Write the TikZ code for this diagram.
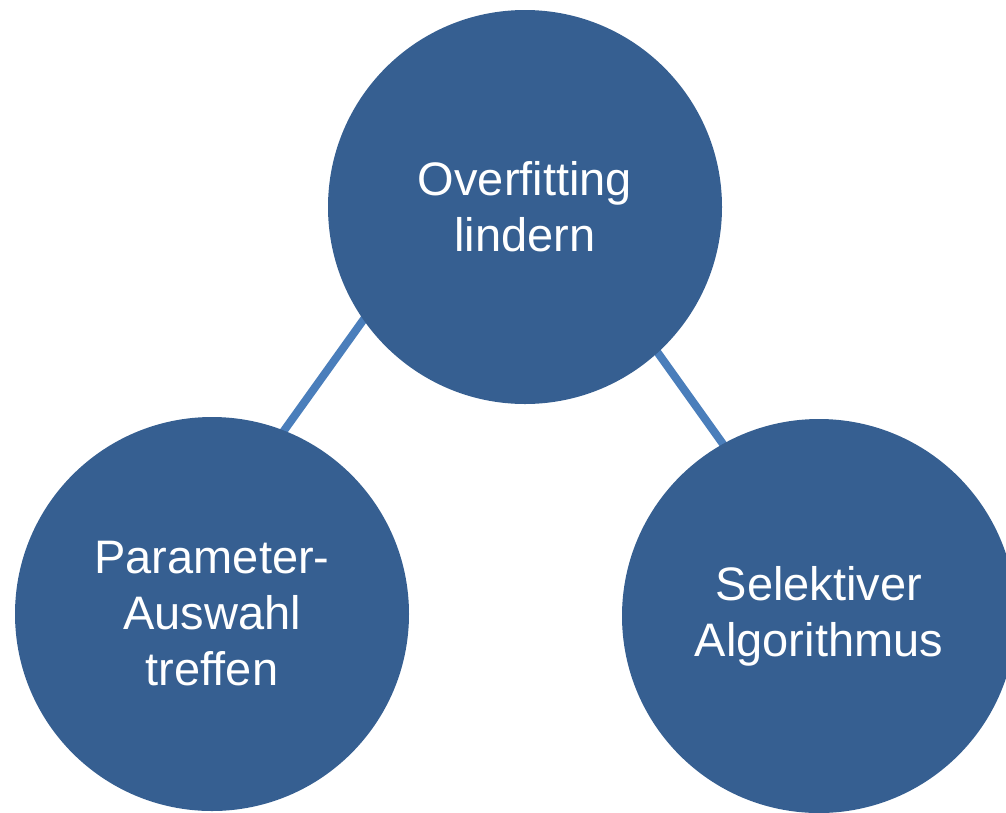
\documentclass[tikz,border=0pt]{standalone}
\usepackage{fontspec}
\setmainfont{Liberation Sans}
\usetikzlibrary{calc,backgrounds}
\definecolor{circfill}{RGB}{54,95,145}
\definecolor{linkcol}{RGB}{74,126,187}
\tikzset{
  bubble/.style={circle, fill=circfill, minimum size=394pt, inner sep=0pt},
  label/.style={text=white, align=center, font=\fontsize{47}{56}\selectfont},
  link/.style={draw=linkcol, line width=8pt}
}
\begin{document}
\begin{tikzpicture}[x=1pt,y=-1pt]
\useasboundingbox (0,0) rectangle (1006,812);
\clip (0,0) rectangle (1006,812);
\node[bubble] (top) at (525,207) {};
\node[bubble] (left) at (212,614) {};
\node[bubble] (right) at (819,616) {};
\coordinate (tl) at ($(top.center)+(-156,105)$);
\coordinate (lt) at ($(left.center)+(66,-175)$);
\coordinate (tr) at ($(top.center)+(128,139)$);
\coordinate (rt) at ($(right.center)+(-91,-165)$);
\begin{scope}[on background layer]
\draw[link] (tl) -- (lt);
\draw[link] (tr) -- (rt);
\end{scope}
\node[label] (ttop) at (top.center) {Overfitting\\lindern};
\node[label] (tleft) at (left.center) {Parameter-\\Auswahl\\treffen};
\node[label] (tright) at (right.center) {Selektiver\\Algorithmus};
\end{tikzpicture}
\end{document}
